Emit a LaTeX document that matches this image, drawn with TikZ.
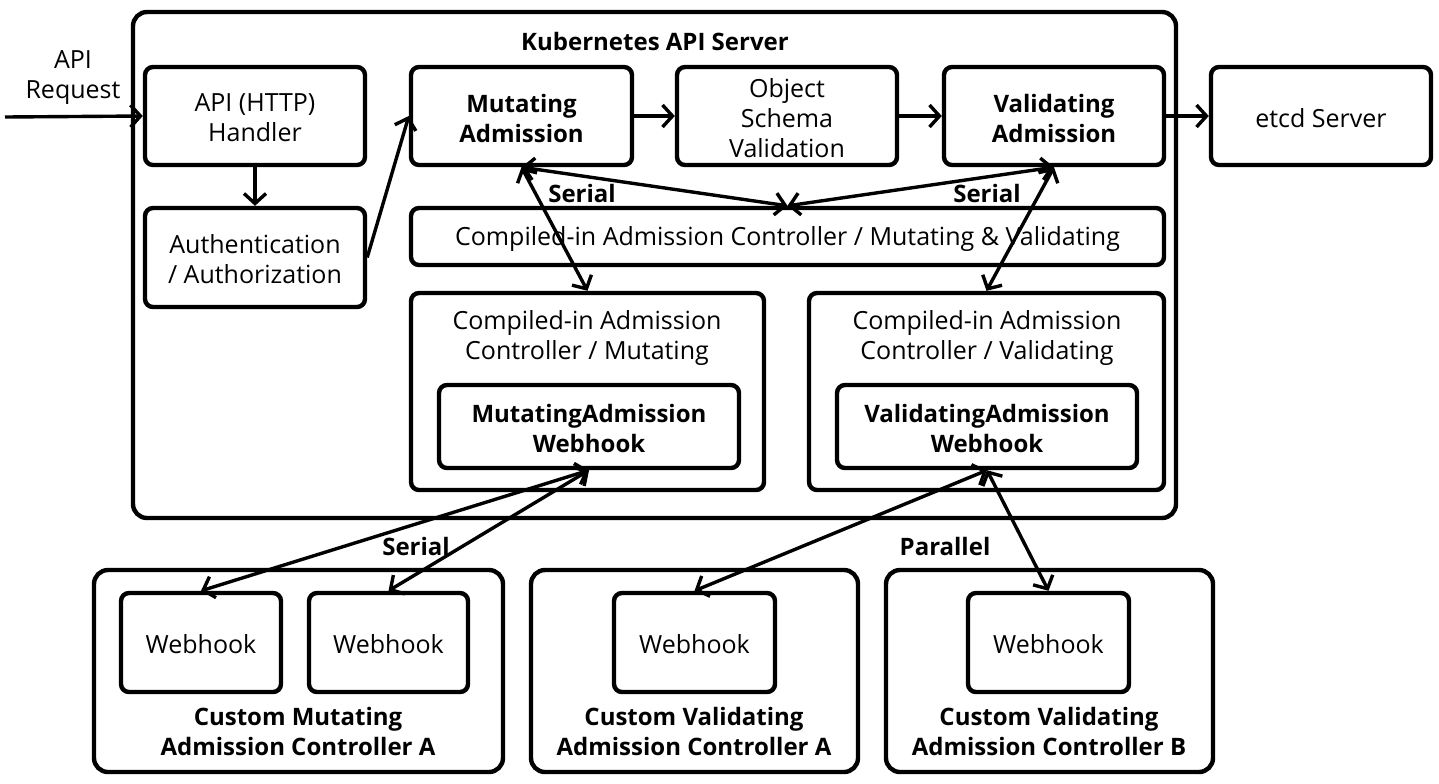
\documentclass[tikz,border=0pt]{standalone}
\usepackage{fontspec}
\setmainfont{Open Sans}
\usetikzlibrary{arrows.meta}
\newcommand\bx[7][box]{\node[#1, minimum width={(#5-#3)*0.5pt}, minimum height={(#6-#4)*0.5pt}] (#2) at ({(#3+#5)/2},{(#4+#6)/2}) {};
  \node[#1 text] (#2-t) at ({(#3+#5)/2},{(#4+#6)/2+2}) {#7};}
\begin{document}
\begin{tikzpicture}[x=0.5pt,y=-0.5pt,
  txt/.style={font=\fontsize{12.5}{15}\selectfont, align=center, inner sep=0pt},
  btxt/.style={font=\fontsize{12}{15}\selectfont\bfseries, align=center, inner sep=0pt},
  box/.style={draw, line width=2.2pt, rounded corners=4pt, inner sep=0pt},
  box text/.style={txt},
  bbox/.style={box},
  bbox text/.style={btxt},
  outer/.style={draw, line width=2.2pt, rounded corners=7pt, inner sep=0pt},
  outer text/.style={txt},
  conn/.style={line width=1.7pt, -{Straight Barb[length=5pt,width=11pt]}},
  dconn/.style={line width=1.7pt, {Straight Barb[length=5pt,width=11pt]}-{Straight Barb[length=5pt,width=11pt]}}]
\useasboundingbox (0,0) rectangle (1439,783);
% outer API server
\bx[outer]{server}{133}{12}{1176}{518}{}
\node[btxt] (title) at (655,41) {Kubernetes API Server};
% top row
\bx{handler}{145}{67}{365}{165}{API (HTTP)\\Handler}
\bx{auth}{145}{208}{365}{307}{Authentication\\/ Authorization}
\bx[bbox]{mut}{411}{67}{632}{165}{Mutating\\Admission}
\bx{obj}{677}{67}{897}{165}{Object\\Schema\\Validation}
\bx[bbox]{val}{944}{67}{1164}{165}{Validating\\Admission}
\bx{etcd}{1211}{67}{1431}{165}{etcd Server}
\bx{cmv}{411}{208}{1164}{265}{Compiled-in Admission Controller / Mutating \& Validating}
% compiled-in boxes
\bx{cm}{411}{293}{764}{490}{}
\node[txt] (cmt) at (587,338) {Compiled-in Admission\\Controller / Mutating};
\bx[bbox]{mwh}{439}{385}{739}{468}{MutatingAdmission\\Webhook}
\bx{cv}{809}{293}{1164}{490}{}
\node[txt] (cvt) at (987,338) {Compiled-in Admission\\Controller / Validating};
\bx[bbox]{vwh}{837}{385}{1137}{468}{ValidatingAdmission\\Webhook}
% bottom custom controllers
\bx[outer]{cma}{94}{570}{503}{772}{}
\bx{wh1}{121}{593}{281}{692}{Webhook}
\bx{wh2}{309}{593}{468}{692}{Webhook}
\node[btxt] (cmal) at (298,731) {Custom Mutating\\Admission Controller A};
\bx[outer]{cva}{531}{570}{858}{772}{}
\bx{wh3}{614}{593}{775}{692}{Webhook}
\node[btxt] (cval) at (694,731) {Custom Validating\\Admission Controller A};
\bx[outer]{cvb}{886}{570}{1213}{772}{}
\bx{wh4}{968}{593}{1129}{692}{Webhook}
\node[btxt] (cvbl) at (1049,731) {Custom Validating\\Admission Controller B};
% labels
\node[txt] (req) at (73,78) {API\\Request};
\node[btxt] (s1) at (582,193) {Serial};
\node[btxt] (s2) at (987,193) {Serial};
\node[btxt] (s3) at (416,546) {Serial};
\node[btxt] (p1) at (945,546) {Parallel};
% connectors
\coordinate (src) at (5,117);
\draw[conn] (src) -- (handler.west);
\draw[conn] (handler.south) -- (auth.north);
\draw[conn] (auth.east) -- (mut.west);
\draw[conn] (mut.east) -- (obj.west);
\draw[conn] (obj.east) -- (val.west);
\draw[conn] (val.east) -- (etcd.west);
\draw[dconn] (mut.south) -- (cmv.north);
\draw[dconn] (val.south) -- (cmv.north);
\draw[dconn] (mut.south) -- (cm.north);
\draw[dconn] (val.south) -- (cv.north);
\draw[dconn] (mwh.south) -- (wh1.north);
\draw[dconn] (mwh.south) -- (wh2.north);
\draw[dconn] (vwh.south) -- (wh3.north);
\draw[dconn] (vwh.south) -- (wh4.north);
\end{tikzpicture}
\end{document}
